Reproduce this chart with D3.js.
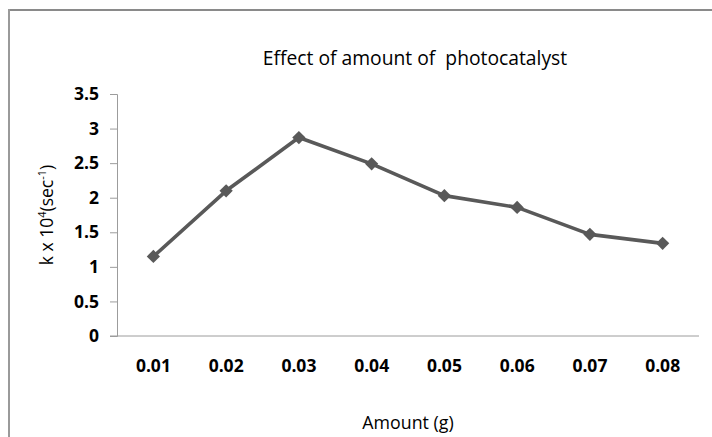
<!DOCTYPE html>
<html>
<head>
<meta charset="utf-8">
<script src="https://cdn.jsdelivr.net/npm/d3@7"></script>
<style>
  body { margin: 0; background: #fff; }
  svg { display: block; font-family: "Open Sans", sans-serif; }
</style>
</head>
<body>
<div id="chart"></div>
<script>
// chart data
const amounts = ['0.01', '0.02', '0.03', '0.04', '0.05', '0.06', '0.07', '0.08']
const kValues = [1.15, 2.10, 2.87, 2.49, 2.03, 1.86, 1.47, 1.34]
const yTicks = [0, 0.5, 1, 1.5, 2, 2.5, 3, 3.5]
const chartTitle = 'Effect of amount of  photocatalyst'
const xTitle = 'Amount (g)'

const width = 712, height = 437
const plot = { left: 117, right: 699, top: 94, bottom: 336 }

const svg = d3.select('#chart')
  .append('svg')
  .attr('width', width)
  .attr('height', height)

// outer frame (only top and left edges show)
svg.append('line')
  .attr('x1', 8).attr('x2', width).attr('y1', 10).attr('y2', 10)
  .attr('stroke', '#8a8a8a').attr('stroke-width', 2)
svg.append('line')
  .attr('x1', 9).attr('x2', 9).attr('y1', 9).attr('y2', height)
  .attr('stroke', '#9a9a9a').attr('stroke-width', 2)

const x = d3.scaleBand()
  .domain(amounts)
  .range([plot.left, plot.right])

const y = d3.scaleLinear()
  .domain([0, 3.5])
  .range([plot.bottom, plot.top])

// y axis
const yAxis = svg.append('g')
  .attr('transform', `translate(${plot.left},0)`)
  .call(d3.axisLeft(y).tickValues(yTicks).tickFormat(d3.format('')).tickSize(7).tickPadding(11))
yAxis.select('.domain').attr('stroke', '#9c9c9c')
yAxis.selectAll('.tick line').attr('stroke', '#9c9c9c')
yAxis.selectAll('text')
  .attr('font-size', '17.5px')
  .attr('font-weight', 'bold')
  .attr('fill', '#000')
  .attr('font-family', '"Open Sans", sans-serif')

// x axis (category axis, no tick marks)
const xAxis = svg.append('g')
  .attr('transform', `translate(0,${plot.bottom})`)
  .call(d3.axisBottom(x).tickSize(0).tickPadding(24))
xAxis.select('.domain')
  .attr('d', `M${plot.left - 7},0H${plot.right}`)
  .attr('stroke', '#9c9c9c')
xAxis.selectAll('text')
  .attr('font-size', '17.5px')
  .attr('font-weight', 'bold')
  .attr('fill', '#000')
  .attr('font-family', '"Open Sans", sans-serif')

// series line
const line = d3.line()
  .x((d, i) => x(amounts[i]) + x.bandwidth() / 2)
  .y(d => y(d))

svg.append('path')
  .datum(kValues)
  .attr('d', line)
  .attr('fill', 'none')
  .attr('stroke', '#595959')
  .attr('stroke-width', 3.6)
  .attr('stroke-linejoin', 'round')

// diamond markers
svg.selectAll('.marker')
  .data(kValues)
  .enter()
  .append('path')
  .attr('class', 'marker')
  .attr('d', d3.symbol(d3.symbolSquare, 88))
  .attr('transform', (d, i) => `translate(${x(amounts[i]) + x.bandwidth() / 2},${y(d)}) rotate(45)`)
  .attr('fill', '#595959')

// title
svg.append('text')
  .attr('x', 415)
  .attr('y', 65)
  .attr('text-anchor', 'middle')
  .attr('font-size', '19.3px')
  .attr('fill', '#000')
  .style('white-space', 'pre')
  .text(chartTitle)

// x axis title
svg.append('text')
  .attr('x', (plot.left + plot.right) / 2)
  .attr('y', 429)
  .attr('text-anchor', 'middle')
  .attr('font-size', '17.8px')
  .attr('fill', '#000')
  .text(xTitle)

// y axis title with superscripts
const yTitle = svg.append('text')
  .attr('transform', 'translate(53,215) rotate(-90)')
  .attr('text-anchor', 'middle')
  .attr('font-size', '17.5px')
  .attr('fill', '#000')
yTitle.append('tspan').text('k x 10')
yTitle.append('tspan').attr('dy', -7).attr('font-size', '11px').text('4')
yTitle.append('tspan').attr('dy', 7).text('(sec')
yTitle.append('tspan').attr('dy', -7).attr('font-size', '11px').text('-1')
yTitle.append('tspan').attr('dy', 7).text(')')
</script>
</body>
</html>
